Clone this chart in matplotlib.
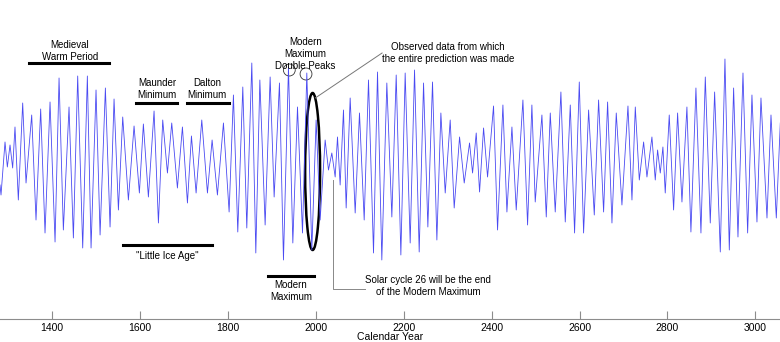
import matplotlib
matplotlib.use("Agg")
import matplotlib.pyplot as plt
from matplotlib.patches import Ellipse

plt.rcParams['font.family'] = ['Liberation Sans', 'DejaVu Sans']

# turning points of the reconstructed cycle curve (year, relative amplitude)
years = [1282, 1284.3, 1293.4, 1298.7, 1304.8, 1310.8, 1316.1, 1323.7, 1333.6, 1341.2,
         1354.1, 1363.9, 1374.5, 1384.4, 1395.8, 1407.2, 1416.3, 1426.1, 1439.0, 1448.9,
         1458.7, 1470.1, 1480.7, 1489.1, 1500.4, 1509.6, 1521.7, 1532.3, 1541.4, 1551.3,
         1561.1, 1574.0, 1586.9, 1599.0, 1608.1, 1619.5, 1632.4, 1642.3, 1652.1, 1662.8,
         1672.6, 1685.5, 1696.9, 1708.3, 1717.4, 1728.0, 1740.9, 1753.8, 1764.4, 1776.5,
         1790.2, 1803.1, 1812.9, 1822.8, 1834.2, 1843.3, 1854.7, 1863.8, 1873.0, 1885.0,
         1896.4, 1905.5, 1917.6, 1926.7, 1938.1, 1948.0, 1958.6, 1970.0, 1979.8, 1991.2,
         2001.0, 2010.1, 2021.5, 2029.1, 2036.7, 2044.3, 2049.6, 2055.6, 2063.2, 2069.3,
         2078.4, 2089.8, 2099.6, 2110.3, 2120.1, 2131.5, 2140.6, 2150.4, 2161.8, 2173.2,
         2183.1, 2193.7, 2203.5, 2214.9, 2224.8, 2235.4, 2245.3, 2255.1, 2265.7, 2275.6,
         2284.7, 2294.6, 2305.9, 2315.0, 2327.2, 2337.8, 2349.9, 2356.8, 2365.1, 2372.7,
         2381.8, 2390.9, 2404.5, 2413.6, 2425.8, 2434.9, 2446.3, 2456.1, 2471.3, 2481.9,
         2491.7, 2499.3, 2514.5, 2524.4, 2533.5, 2544.8, 2557.7, 2567.6, 2579.0, 2588.8,
         2599.5, 2609.3, 2620.7, 2633.6, 2643.4, 2654.8, 2663.9, 2673.8, 2683.6, 2696.5,
         2710.2, 2719.3, 2726.9, 2736.0, 2745.8, 2753.4, 2764.7, 2772.3, 2777.6, 2783.7,
         2789.7, 2795.0, 2804.1, 2814.0, 2823.1, 2833.0, 2844.3, 2853.4, 2864.8, 2876.2,
         2886.1, 2897.4, 2907.3, 2920.2, 2930.8, 2940.7, 2950.5, 2960.4, 2971.8, 2982.4,
         2992.2, 3003.6, 3012.7, 3026.4, 3035.5, 3047.6, 3056.7]
amplitude = [-20, -30, 23, -2, 20, -3, 38, -35, 62, -18,
             50, -55, 56, -68, 63, -77, 87, -65, 58, -73,
             89, -83, 89, -83, 75, -70, 77, -62, 66, -45,
             48, -35, 39, -28, 41, -32, 54, -58, 45, -8,
             42, -23, 38, -38, 29, -28, 45, -28, 25, -30,
             42, -47, 70, -67, 78, -63, 102, -88, 85, -60,
             88, -32, 82, -95, 98, -78, 58, -68, 92, -85,
             45, -55, 25, -5, 12, -12, 28, -20, 55, -43,
             67, -48, 52, -55, 85, -88, 93, -95, 82, -52,
             90, -90, 92, -78, 95, -87, 82, -62, 83, -75,
             52, -28, 45, -43, 28, -18, 22, -8, 32, -27,
             37, -12, 59, -65, 60, -47, 38, -45, 65, -60,
             60, -37, 50, -52, 52, -47, 73, -57, 60, -68,
             83, -68, 55, -50, 65, -47, 63, -58, 52, -40,
             59, -35, 58, -15, 23, -12, 28, -15, 15, -8,
             18, -28, 50, -45, 52, -37, 58, -67, 77, -68,
             88, -58, 73, -87, 106, -85, 77, -72, 92, -68,
             70, -57, 67, -53, 50, -53, 42]
tick_years = [1400, 1600, 1800, 2000, 2200, 2400, 2600, 2800, 3000]

fig = plt.figure(figsize=(7.8, 3.42), dpi=100)
ax = fig.add_axes([0, 0.0673, 1, 0.9327])
ax.plot(years, amplitude, color='#4a4af2', lw=0.6)
ax.set_xlim(1282, 3056)
ax.set_ylim(-154, 165)

ax.set_xticks(tick_years)
ax.set_yticks([])
for s in ['top', 'left', 'right']:
    ax.spines[s].set_visible(False)
ax.spines['bottom'].set_color('#8c8c8c')
ax.tick_params(axis='x', direction='in', length=5.5, color='#8c8c8c', labelsize=7.5, pad=3)
fig.text(0.5, 5 / 342, "Calendar Year", ha='center', va='center', fontsize=7.5)

fs = 7
ls = 1.25
# period labels with black bars
ax.text(1441, 114, "Medieval\nWarm Period", ha='center', va='center', fontsize=fs, linespacing=ls)
ax.plot([1348, 1530], [102, 102], color='black', lw=2.2)
ax.text(1639, 76, "Maunder\nMinimum", ha='center', va='center', fontsize=fs, linespacing=ls)
ax.plot([1591, 1685], [62, 62], color='black', lw=2.2)
ax.text(1753, 76, "Dalton\nMinimum", ha='center', va='center', fontsize=fs, linespacing=ls)
ax.plot([1708, 1803], [62, 62], color='black', lw=2.2)
ax.plot([1562, 1764], [-80, -80], color='black', lw=2.2)
ax.text(1662, -91, '"Little Ice Age"', ha='center', va='center', fontsize=fs)
ax.plot([1892, 1996], [-111, -111], color='black', lw=2.2)
ax.text(1944, -126, "Modern\nMaximum", ha='center', va='center', fontsize=fs, linespacing=ls)

ax.text(1976, 111, "Modern\nMaximum\nDouble Peaks", ha='center', va='center', fontsize=fs, linespacing=1.2)
ax.add_patch(Ellipse((1940, 95), 27, 12, fill=False, ec='#333333', lw=0.6))
ax.add_patch(Ellipse((1978, 91), 27, 12, fill=False, ec='#333333', lw=0.6))

# observed-data ellipse and callouts
ax.add_patch(Ellipse((1993, -6.5), 34, 157, fill=False, ec='black', lw=1.8))
ax.plot([1999, 2151], [67, 112], color='#777777', lw=0.7)
ax.text(2301, 112, "Observed data from which\nthe entire prediction was made",
        ha='center', va='center', fontsize=fs, linespacing=ls)
ax.plot([2040, 2040, 2112], [-15, -124, -124], color='#888888', lw=0.7)
ax.text(2256, -121, "Solar cycle 26 will be the end\nof the Modern Maximum",
        ha='center', va='center', fontsize=fs, linespacing=ls)

fig.savefig("out.png", dpi=100)
